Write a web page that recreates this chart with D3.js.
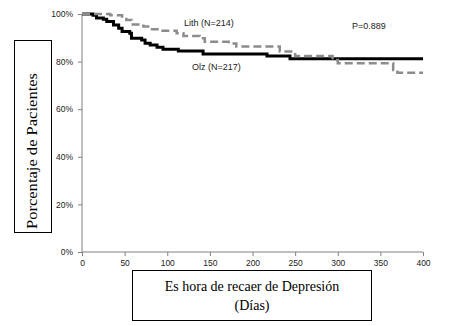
<!DOCTYPE html>
<html>
<head>
<meta charset="utf-8">
<script src="https://cdn.jsdelivr.net/npm/d3@7"></script>
<style>
  html, body { margin: 0; padding: 0; background: #fff; }
  svg { display: block; }
</style>
</head>
<body>
<svg id="chart" width="454" height="326"></svg>
<script>
// ---- Data ----
const xTicks = [0, 50, 100, 150, 200, 250, 300, 350, 400];
const yTicks = [0, 20, 40, 60, 80, 100];

// Olz (N=217): step points [day, % of patients]
const olzDays = [0, 13, 17, 25, 29, 37, 43, 47, 56, 58, 70, 74, 80, 88, 95, 113, 142, 217, 244, 400];
const olzPct  = [100, 99.5, 98.3, 97.8, 96.8, 95.4, 94, 92.6, 91.9, 89.8, 89.1, 87.7, 87, 86, 85.2, 84.5, 83.2, 82.4, 81.2, 81.2];

// Lith (N=214)
const lithDays = [0, 33, 47, 52, 58, 72, 80, 91, 111, 119, 138, 144, 172, 181, 232, 250, 294, 300, 365, 370, 400];
const lithPct  = [100, 99.5, 98.9, 97.5, 95.6, 94.7, 93.6, 93, 91.9, 90.8, 89.8, 88.3, 87.6, 86.3, 84.2, 82.4, 80.7, 79.3, 76.5, 75.3, 75.3];

const seriesLabels = ["Lith (N=214)", "Olz (N=217)"];
const pLabel = "P=0.889";
const yTitle = "Porcentaje de Pacientes";
const xTitle = ["Es hora de recaer de Depresión", "(Días)"];

// ---- Layout ----
const svg = d3.select("#chart");
const x = d3.scaleLinear().domain([0, 400]).range([82, 423]);
const y = d3.scaleLinear().domain([0, 100]).range([252, 14]);

const axisColor = "#808080";
const tickFont = "Liberation Sans, Arial, sans-serif";
const serif = "Liberation Serif, Times New Roman, serif";

// X axis
const gx = svg.append("g").attr("transform", `translate(0,${y(0)})`)
  .call(d3.axisBottom(x).tickValues(xTicks).tickSize(4).tickPadding(4).tickFormat(d3.format("d")));
gx.select(".domain").attr("stroke", axisColor).attr("d", `M${x(0)},0H${x(400)}`);
gx.selectAll(".tick line").attr("stroke", axisColor);
gx.selectAll(".tick text").attr("fill", "#222").style("font-family", tickFont).style("font-size", "8.5px");

// Y axis
const gy = svg.append("g").attr("transform", `translate(${x(0)},0)`)
  .call(d3.axisLeft(y).tickValues(yTicks).tickSize(4).tickPadding(5).tickFormat(d => d + "%"));
gy.select(".domain").attr("stroke", axisColor).attr("d", `M0,${y(0)}V${y(100)}`);
gy.selectAll(".tick line").attr("stroke", axisColor);
gy.selectAll(".tick text").attr("fill", "#222").style("font-family", tickFont).style("font-size", "8.5px");

// Lines
const line = d3.line().x(d => x(d[0])).y(d => y(d[1])).curve(d3.curveStepAfter);
const lith = lithDays.map((d, i) => [d, lithPct[i]]);
const olz = olzDays.map((d, i) => [d, olzPct[i]]);

svg.append("path").datum(olz).attr("d", line)
  .attr("fill", "none").attr("stroke", "#000").attr("stroke-width", 3);
svg.append("path").datum(lith).attr("d", line)
  .attr("fill", "none").attr("stroke", "#8c8c8c").attr("stroke-width", 2.5)
  .attr("stroke-dasharray", "8,4");

// Labels
const lblFont = "Liberation Sans, Arial, sans-serif";
svg.append("text").attr("x", 184).attr("y", 26).text(seriesLabels[0])
  .style("font-family", lblFont).style("font-size", "9px").attr("fill", "#222");
svg.append("text").attr("x", 192).attr("y", 70).text(seriesLabels[1])
  .style("font-family", lblFont).style("font-size", "9px").attr("fill", "#222");
svg.append("text").attr("x", 352).attr("y", 29).text(pLabel)
  .style("font-family", lblFont).style("font-size", "9px").attr("fill", "#222");

// Y title box
svg.append("rect").attr("x", 14.5).attr("y", 40.5).attr("width", 37).attr("height", 192)
  .attr("fill", "#fff").attr("stroke", "#000").attr("stroke-width", 1);
svg.append("text")
  .attr("transform", `translate(37,${151}) rotate(-90)`)
  .attr("text-anchor", "middle")
  .attr("textLength", 156).attr("lengthAdjust", "spacingAndGlyphs")
  .style("font-family", serif).style("font-size", "15px")
  .text(yTitle);

// X title box
svg.append("rect").attr("x", 132.5).attr("y", 270.5).attr("width", 239).attr("height", 50)
  .attr("fill", "#fff").attr("stroke", "#000").attr("stroke-width", 1);
svg.append("text").attr("x", 252).attr("y", 291).attr("text-anchor", "middle")
  .style("font-family", serif).style("font-size", "14px")
  .text(xTitle[0]);
svg.append("text").attr("x", 252).attr("y", 310).attr("text-anchor", "middle")
  .style("font-family", serif).style("font-size", "14px")
  .text(xTitle[1]);
</script>
</body>
</html>
